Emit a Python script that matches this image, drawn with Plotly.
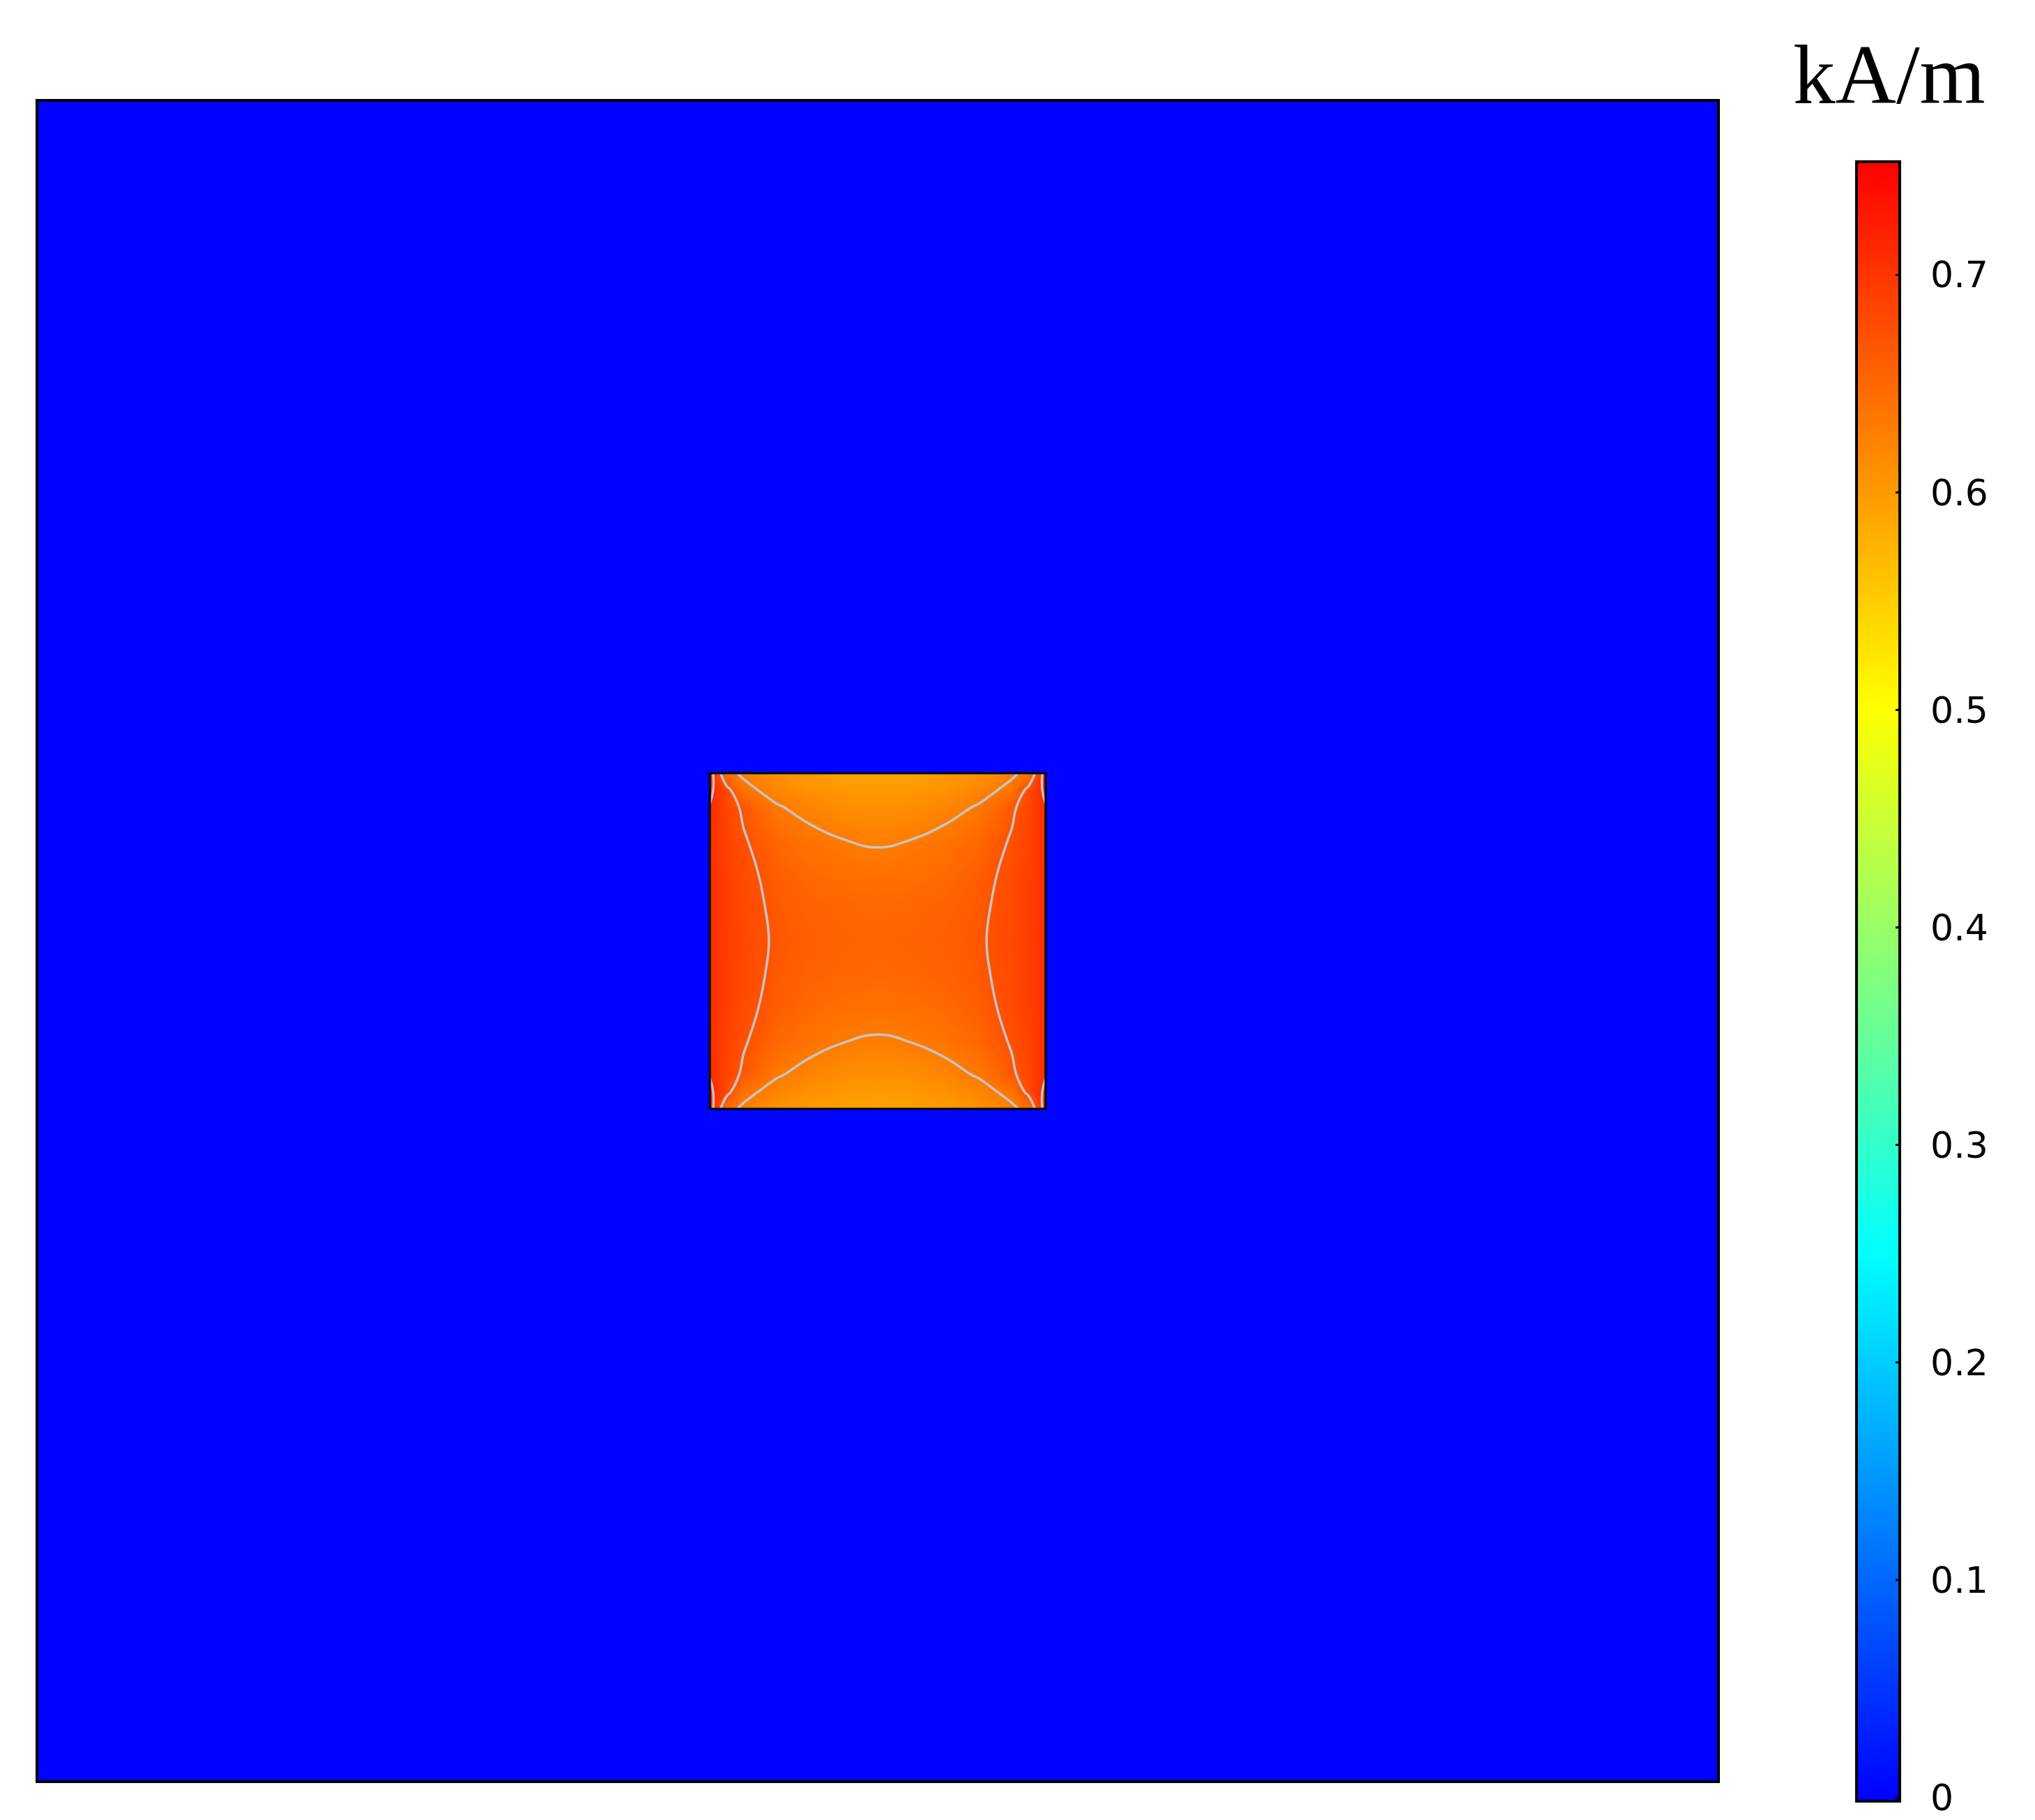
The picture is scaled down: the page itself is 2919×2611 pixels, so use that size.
import plotly.graph_objects as go

# ---- data ----
# node coordinates of one quadrant of the inner square (|x| or |y|), square spans -0.5..0.5
NODES_HALF = [0.0, 0.1, 0.2, 0.3, 0.4, 0.45, 0.5]
# field values (kA/m) in the quadrant; rows = |y| nodes, columns = |x| nodes
QUADRANT = [
    [0.653, 0.6545, 0.659, 0.6665, 0.681, 0.692, 0.706],
    [0.650, 0.6515, 0.656, 0.6645, 0.680, 0.691, 0.706],
    [0.641, 0.643, 0.648, 0.660, 0.678, 0.690, 0.7055],
    [0.627, 0.6303, 0.638, 0.650, 0.673, 0.687, 0.7045],
    [0.610, 0.612, 0.621, 0.632, 0.665, 0.6835, 0.7085],
    [0.600, 0.602, 0.608, 0.620, 0.6375, 0.6803, 0.7174],
    [0.591, 0.593, 0.599, 0.609, 0.626, 0.637, 0.728],
]
# surrounding region: cell edges and value (field is zero outside the magnet)
OUTER_EDGES = [-2.5, -0.5, 0.5, 2.5]
OUTER_VALUE = 0.0
INNER_EDGES = [-0.5, 0.5]
CONTOUR_LEVELS = [0.63, 0.67, 0.71]
ZRANGE = [-0.0016, 0.752]
TICK_VALUES = [0, 0.1, 0.2, 0.3, 0.4, 0.5, 0.6, 0.7]
TICK_LABELS = ["0", "0.1", "0.2", "0.3", "0.4", "0.5", "0.6", "0.7"]
UNIT = "kA/m"

# ---- build full symmetric grid ----
nodes = [-v for v in reversed(NODES_HALF[1:])] + NODES_HALF
rows_half = [list(reversed(r[1:])) + r for r in QUADRANT]
z_inner = list(reversed(rows_half[1:])) + rows_half

z_outer = [[OUTER_VALUE, OUTER_VALUE, OUTER_VALUE],
           [OUTER_VALUE, None, OUTER_VALUE],
           [OUTER_VALUE, OUTER_VALUE, OUTER_VALUE]]

colorscale = [[0.0, "rgb(0,0,255)"], [1 / 3, "rgb(0,255,255)"],
              [2 / 3, "rgb(255,255,0)"], [1.0, "rgb(255,0,0)"]]

W, H = 2919, 2611
L, R, T, B = 47, 464, 138, 65
PW = W - L - R
PH = H - T - B

pad = "\u2009\u2009\u2009"
fig = go.Figure()

fig.add_trace(go.Heatmap(
    x=nodes, y=nodes, z=z_inner, zsmooth="best",
    colorscale=colorscale, zmin=ZRANGE[0], zmax=ZRANGE[1],
    hoverinfo="skip",
    colorbar=dict(
        thickness=62, thicknessmode="pixels",
        len=2352, lenmode="pixels",
        x=(2655 - L) / PW, xanchor="left", xpad=0,
        y=(H - B - 1400) / PH, yanchor="middle", ypad=0,
        outlinewidth=4, outlinecolor="black",
        ticks="inside", ticklen=8, tickwidth=3, tickcolor="black",
        tickvals=TICK_VALUES, ticktext=[pad + t for t in TICK_LABELS],
        tickfont=dict(family="DejaVu Sans", size=52, color="black"),
    ),
))

fig.add_trace(go.Heatmap(
    x=OUTER_EDGES, y=OUTER_EDGES, z=z_outer,
    colorscale=colorscale, zmin=ZRANGE[0], zmax=ZRANGE[1],
    showscale=False, hoverinfo="skip",
))

fig.add_trace(go.Contour(
    x=nodes, y=nodes, z=z_inner,
    contours=dict(start=CONTOUR_LEVELS[0], end=CONTOUR_LEVELS[-1],
                  size=CONTOUR_LEVELS[1] - CONTOUR_LEVELS[0], coloring="none"),
    line=dict(color="rgba(195,200,208,0.95)", width=3.5, smoothing=1.3),
    showscale=False, hoverinfo="skip",
))

sq_x = [INNER_EDGES[0], INNER_EDGES[1], INNER_EDGES[1], INNER_EDGES[0], INNER_EDGES[0]]
sq_y = [INNER_EDGES[0], INNER_EDGES[0], INNER_EDGES[1], INNER_EDGES[1], INNER_EDGES[0]]
fig.add_trace(go.Scatter(x=sq_x, y=sq_y, mode="lines",
                         line=dict(color="black", width=3),
                         hoverinfo="skip", showlegend=False))

axis = dict(range=[OUTER_EDGES[0], OUTER_EDGES[-1]], showgrid=False, zeroline=False,
            showticklabels=False, ticks="", showline=True, mirror=True,
            linecolor="black", linewidth=4)

fig.update_layout(
    width=W, height=H,
    margin=dict(l=L, r=R, t=T, b=B, autoexpand=False),
    paper_bgcolor="white", plot_bgcolor="white",
    xaxis=axis, yaxis=axis, showlegend=False,
    annotations=[dict(
        text=UNIT, xref="paper", yref="paper",
        x=(2702 - L) / PW, y=(H - B - 99) / PH,
        xanchor="center", yanchor="middle", showarrow=False,
        font=dict(family="Liberation Serif", size=121, color="black"),
    )],
)

fig.write_html("out.html")
